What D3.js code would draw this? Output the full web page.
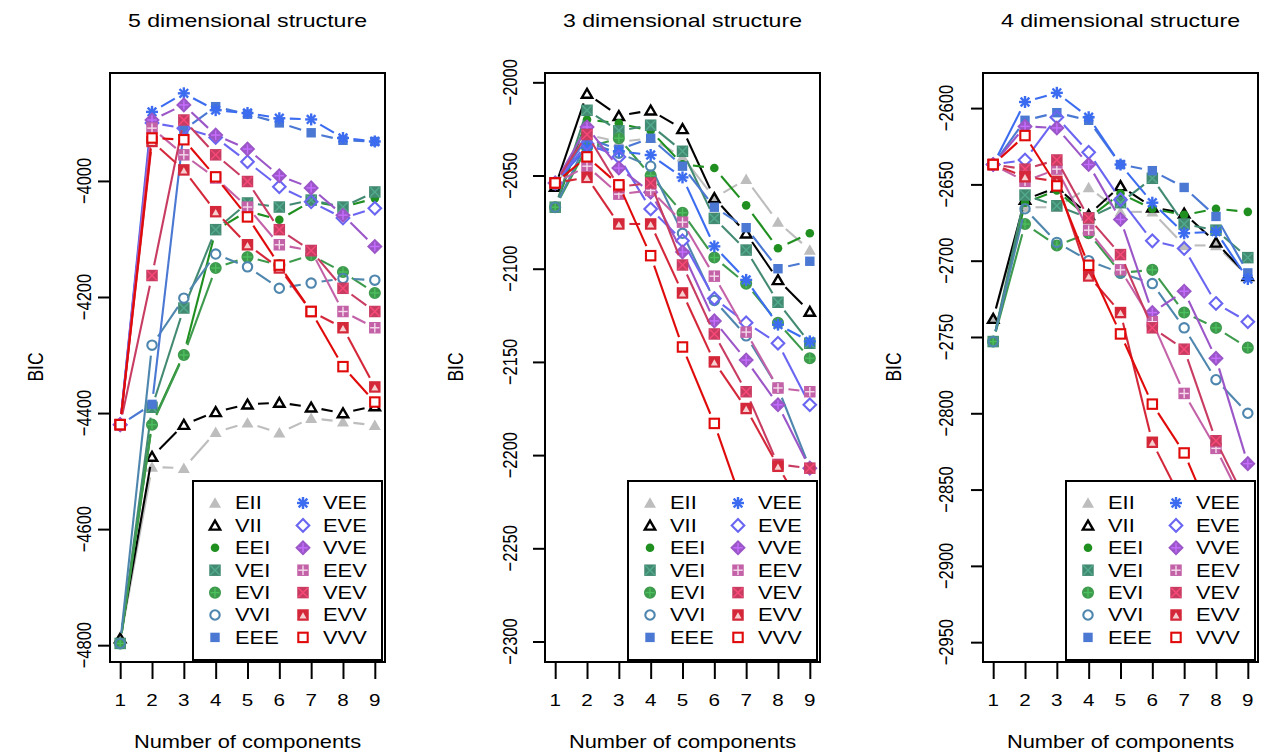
<!DOCTYPE html>
<html>
<head>
<meta charset="utf-8">
<script src="https://cdn.jsdelivr.net/npm/d3@7"></script>
<style>
  body { margin: 0; background: #fff; }
  svg { display: block; }
  text { font-family: "Liberation Sans", Arial, sans-serif; fill: #000; }
</style>
</head>
<body>
<script>
// BIC values (number of components 1..9)
const components = [1, 2, 3, 4, 5, 6, 7, 8, 9];
const models = ['EII', 'VII', 'EEI', 'VEI', 'EVI', 'VVI', 'EEE',
                'VEE', 'EVE', 'VVE', 'EEV', 'VEV', 'EVV', 'VVV'];
const panelTitles = ['5 dimensional structure', '3 dimensional structure', '4 dimensional structure'];

const yTicks5 = [-4800, -4600, -4400, -4200, -4000];
const yTicks3 = [-2300, -2250, -2200, -2150, -2100, -2050, -2000];
const yTicks4 = [-2950, -2900, -2850, -2800, -2750, -2700, -2650, -2600];

const bic5 = {
  EII: [-4792, -4493, -4495, -4433, -4417, -4434, -4409, -4415, -4421],
  VII: [-4788, -4475, -4420, -4398, -4385, -4382, -4390, -4400, -4388],
  EEI: [-4797, -4418, -4298, -4085, -4052, -4067, -4035, -4045, -4030],
  VEI: [-4797, -4390, -4219, -4084, -4038, -4045, -4033, -4045, -4019],
  EVI: [-4797, -4420, -4300, -4150, -4131, -4145, -4128, -4157, -4193],
  VVI: [-4797, -4283, -4202, -4126, -4148, -4185, -4176, -4168, -4171],
  EEE: [-4420, -4385, -3912, -3872, -3885, -3900, -3917, -3930, -3932],
  VEE: [-4420, -3881, -3849, -3878, -3883, -3892, -3894, -3926, -3932],
  EVE: [-4420, -3900, -3909, -3925, -3967, -4010, -4036, -4064, -4047],
  VVE: [-4420, -3895, -3869, -3921, -3945, -3991, -4012, -4059, -4113],
  EEV: [-4420, -3909, -3955, -3995, -4045, -4110, -4120, -4225, -4253],
  VEV: [-4420, -4163, -3895, -3955, -4001, -4084, -4120, -4185, -4225],
  EVV: [-4420, -3932, -3981, -4053, -4110, -4150, -4225, -4253, -4355],
  VVV: [-4420, -3926, -3929, -3993, -4062, -4145, -4225, -4320, -4381]
};

const bic3 = {
  EII: [-2056, -2028, -2032, -2030, -2040, -2062, -2052, -2075, -2090],
  VII: [-2056, -2006, -2018, -2015, -2025, -2062, -2081, -2106, -2123],
  EEI: [-2067, -2020, -2022, -2026, -2044, -2046, -2066, -2089, -2081],
  VEI: [-2067, -2015, -2026, -2023, -2037, -2073, -2090, -2118, -2140],
  EVI: [-2067, -2035, -2030, -2050, -2070, -2094, -2108, -2129, -2148],
  VVI: [-2067, -2032, -2038, -2045, -2081, -2117, -2136, -2164, -2207],
  EEE: [-2054, -2030, -2036, -2030, -2045, -2067, -2078, -2100, -2096],
  VEE: [-2054, -2035, -2037, -2039, -2051, -2088, -2106, -2130, -2139],
  EVE: [-2054, -2033, -2040, -2068, -2085, -2116, -2129, -2140, -2173],
  VVE: [-2054, -2024, -2046, -2059, -2091, -2128, -2149, -2173, -2207],
  EEV: [-2054, -2045, -2060, -2058, -2075, -2104, -2134, -2164, -2166],
  VEV: [-2054, -2028, -2056, -2054, -2098, -2135, -2166, -2205, -2207],
  EVV: [-2054, -2051, -2076, -2076, -2113, -2150, -2175, -2206, -2235],
  VVV: [-2054, -2040, -2055, -2093, -2142, -2183, -2232, -2285, -2335]
};

const bic4 = {
  EII: [-2738, -2665, -2665, -2652, -2668, -2668, -2690, -2690, -2710],
  VII: [-2738, -2660, -2652, -2670, -2651, -2665, -2669, -2688, -2710],
  EEI: [-2753, -2662, -2654, -2672, -2656, -2666, -2670, -2666, -2668],
  VEI: [-2753, -2657, -2664, -2672, -2662, -2646, -2676, -2680, -2698],
  EVI: [-2753, -2676, -2690, -2682, -2708, -2706, -2734, -2744, -2757],
  VVI: [-2753, -2666, -2688, -2700, -2708, -2715, -2744, -2778, -2800],
  EEE: [-2637, -2608, -2603, -2608, -2637, -2641, -2652, -2671, -2708],
  VEE: [-2637, -2596, -2590, -2606, -2637, -2662, -2682, -2681, -2712],
  EVE: [-2637, -2634, -2606, -2629, -2660, -2687, -2692, -2728, -2740],
  VVE: [-2637, -2612, -2613, -2637, -2673, -2734, -2720, -2764, -2833],
  EEV: [-2637, -2648, -2640, -2680, -2706, -2740, -2787, -2823, -2865],
  VEV: [-2637, -2640, -2634, -2672, -2696, -2744, -2758, -2818, -2860],
  EVV: [-2637, -2645, -2648, -2710, -2734, -2819, -2860, -2890, -2920],
  VVV: [-2637, -2618, -2651, -2703, -2748, -2794, -2826, -2875, -2905]
};

const modelColors = {
  EII: '#bdbdbd', VII: '#000000', EEI: '#1f8f1f', VEI: '#438a72',
  EVI: '#3e9a4c', VVI: '#4e86ae', EEE: '#4a78d2', VEE: '#3c6cf0',
  EVE: '#6a66f2', VVE: '#9b56c8', EEV: '#c462a8', VEV: '#c83c62',
  EVV: '#d4283a', VVV: '#e00a0a'
};

// layout
const W = 1263, H = 756;
const SX = 1.25;              // the reference is stretched horizontally
const plotTop = 73, plotBottom = 662, plotW = 275;
const panels = [
  { data: bic5, title: panelTitles[0], ticks: yTicks5, left: 110, ydom: [-4829, -3814], labOff: 26, bicX: 35 },
  { data: bic3, title: panelTitles[1], ticks: yTicks3, left: 545, ydom: [-2311, -1995], labOff: 35, bicX: 455 },
  { data: bic4, title: panelTitles[2], ticks: yTicks4, left: 983, ydom: [-2963, -2577], labOff: 37, bicX: 893 }
];

const svg = d3.select('body').append('svg').attr('width', W).attr('height', H);

function stext(parent, x, y, str, size, anchor, rot) {
  const g = parent.append('g')
    .attr('transform', `translate(${x},${y}) scale(${SX},1)` + (rot ? ` rotate(${rot})` : ''));
  return g.append('text')
    .attr('text-anchor', anchor || 'middle')
    .attr('font-size', size)
    .text(str);
}

function drawMarker(g, model, col) {
  const s = 4.7, sw = 2.1;
  const line = (x1, y1, x2, y2) => g.append('line')
    .attr('x1', x1).attr('y1', y1).attr('x2', x2).attr('y2', y2)
    .attr('stroke', col).attr('stroke-width', 1.4);
  const sq = (fill) => g.append('rect').attr('x', -s).attr('y', -s)
    .attr('width', 2 * s).attr('height', 2 * s)
    .attr('fill', fill).attr('stroke', col).attr('stroke-width', sw);
  const dm = (fill) => g.append('path')
    .attr('d', `M0,${-s - 1.6}L${s + 1.6},0L0,${s + 1.6}L${-s - 1.6},0Z`)
    .attr('fill', fill).attr('stroke', col).attr('stroke-width', sw);
  switch (model) {
    case 'EII':
      g.append('path').attr('d', `M0,${-s - 1}L${s + 1.3},${s}L${-s - 1.3},${s}Z`).attr('fill', col);
      break;
    case 'VII':
      g.append('path').attr('d', `M0,${-s}L${s + 0.5},${s - 0.5}L${-s - 0.5},${s - 0.5}Z`)
        .attr('fill', 'none').attr('stroke', col).attr('stroke-width', 2.4);
      break;
    case 'EEI':
      g.append('circle').attr('r', 4.3).attr('fill', col);
      break;
    case 'VEI': case 'VEV':
      sq(col); line(-s, -s, s, s); line(-s, s, s, -s);
      g.selectAll('line').attr('stroke', d3.color(col).brighter(0.6));
      break;
    case 'EVI':
      g.append('circle').attr('r', s + 0.3).attr('fill', col).attr('stroke', col).attr('stroke-width', sw);
      line(-s, 0, s, 0); line(0, -s, 0, s);
      g.selectAll('line').attr('stroke', d3.color(col).brighter(0.6));
      break;
    case 'VVI':
      g.append('circle').attr('r', s).attr('fill', 'none').attr('stroke', col).attr('stroke-width', sw);
      break;
    case 'EEE':
      g.append('rect').attr('x', -s).attr('y', -s).attr('width', 2 * s).attr('height', 2 * s).attr('fill', col);
      break;
    case 'VEE': {
      const r = s + 1.3, d = r * 0.72;
      [[0, -r, 0, r], [-r, 0, r, 0], [-d, -d, d, d], [-d, d, d, -d]].forEach(a =>
        g.append('line').attr('x1', a[0]).attr('y1', a[1]).attr('x2', a[2]).attr('y2', a[3])
          .attr('stroke', col).attr('stroke-width', 2.4));
      break;
    }
    case 'EVE':
      dm('none');
      break;
    case 'VVE':
      dm(col); line(-s, 0, s, 0); line(0, -s, 0, s);
      g.selectAll('line').attr('stroke', d3.color(col).brighter(0.7));
      break;
    case 'EEV':
      sq(col); line(-s, 0, s, 0); line(0, -s, 0, s);
      g.selectAll('line').attr('stroke', '#f4dcec');
      break;
    case 'EVV':
      sq(col);
      g.append('path').attr('d', `M${-s + 1.2},${s - 1.2}L0,${-s + 2}L${s - 1.2},${s - 1.2}Z`)
        .attr('fill', '#f6d0d0');
      break;
    case 'VVV':
      sq('#fff');
      break;
  }
}

function gapSegments(pts, gap) {
  const segs = [];
  for (let i = 0; i < pts.length - 1; i++) {
    const [x0, y0] = pts[i], [x1, y1] = pts[i + 1];
    const dx = x1 - x0, dy = y1 - y0, len = Math.hypot(dx, dy);
    if (len <= 2 * gap) continue;
    const ux = dx / len, uy = dy / len;
    segs.push([x0 + ux * gap, y0 + uy * gap, x1 - ux * gap, y1 - uy * gap]);
  }
  return segs;
}

panels.forEach((p, pi) => {
  const x = d3.scaleLinear().domain([0.68, 9.32]).range([p.left, p.left + plotW]);
  const y = d3.scaleLinear().domain(p.ydom).range([plotBottom, plotTop]);
  const g = svg.append('g');

  const clipId = 'clip' + pi;
  svg.append('clipPath').attr('id', clipId).append('rect')
    .attr('x', p.left).attr('y', plotTop).attr('width', plotW).attr('height', plotBottom - plotTop);

  // series (type = "b": lines broken around the points)
  const plot = g.append('g').attr('clip-path', `url(#${clipId})`);
  models.forEach(m => {
    const col = modelColors[m];
    const pts = components.map((c, i) => [x(c), y(p.data[m][i])]);
    gapSegments(pts, 10.5).forEach(sg => {
      plot.append('line')
        .attr('x1', sg[0]).attr('y1', sg[1]).attr('x2', sg[2]).attr('y2', sg[3])
        .attr('stroke', col).attr('stroke-width', 2.1);
    });
    pts.forEach(pt => drawMarker(plot.append('g').attr('transform', `translate(${pt[0]},${pt[1]})`), m, col));
  });

  // frame
  g.append('rect').attr('x', p.left).attr('y', plotTop).attr('width', plotW).attr('height', plotBottom - plotTop)
    .attr('fill', 'none').attr('stroke', '#000').attr('stroke-width', 2);

  // x axis
  const xAxis = g.append('g').attr('transform', `translate(0,${plotBottom})`)
    .call(d3.axisBottom(x).tickValues(components).tickSize(17).tickFormat(''));
  xAxis.select('.domain').remove();
  xAxis.selectAll('line').attr('stroke-width', 2);
  components.forEach(c => stext(g, x(c), 706, String(c), 16.5));

  // y axis
  const yAxis = g.append('g').attr('transform', `translate(${p.left},0)`)
    .call(d3.axisLeft(y).tickValues(p.ticks).tickSize(12).tickFormat(''));
  yAxis.select('.domain').remove();
  yAxis.selectAll('line').attr('stroke-width', 2);
  p.ticks.forEach(t => stext(g, p.left - p.labOff, y(t), String(t).replace('-', '\u2212'), 16.5, 'middle', -90)
    .attr('dy', '0.35em'));

  // titles
  stext(g, p.left + plotW / 2, 27, p.title, 18.5);
  stext(g, p.left + plotW / 2, 748, 'Number of components', 17.5);
  stext(g, p.bicX, 367, 'BIC', 17.5, 'middle', -90).attr('dy', '0.35em');

  // legend
  const lx = p.left + plotW - 192, ly = plotBottom - 181;
  const lg = g.append('g').attr('transform', `translate(${lx},${ly})`);
  lg.append('rect').attr('width', 189).attr('height', 179)
    .attr('fill', '#fff').attr('stroke', '#000').attr('stroke-width', 2);
  models.forEach((m, i) => {
    const col = i < 7 ? 0 : 1, row = i % 7;
    const ry = 22 + row * 22.4;
    drawMarker(lg.append('g').attr('transform', `translate(${22 + col * 88},${ry})`), m, modelColors[m]);
    stext(lg, 42 + col * 88, ry, m, 17.5, 'start').attr('dy', '0.36em');
  });
});
</script>
</body>
</html>
